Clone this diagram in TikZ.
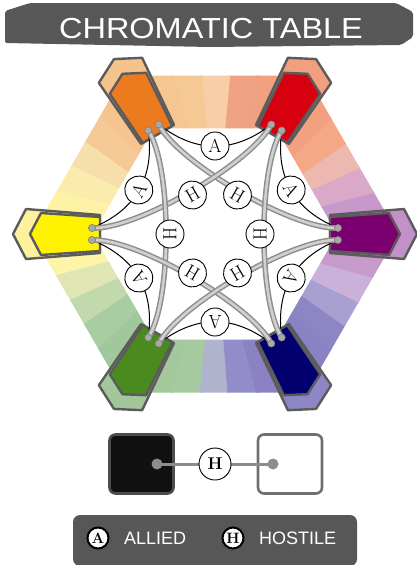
\documentclass[tikz,border=0pt]{standalone}
\usepackage{fontspec}
\newfontfamily\labelsans{Liberation Sans}
\usetikzlibrary{calc}
\definecolor{bannergray}{HTML}{575757}
\definecolor{tabline}{HTML}{5B5B5B}
\definecolor{tubedark}{HTML}{8E8E8E}
\definecolor{tubelight}{HTML}{D0D0D0}
\definecolor{dotgray}{HTML}{A9A9A9}
\definecolor{dotrim}{HTML}{7A7A7A}
\definecolor{linkgray}{HTML}{8C8C8C}
\definecolor{blacksq}{HTML}{111111}
\definecolor{blackrim}{HTML}{4D4D4D}
\definecolor{whiterim}{HTML}{707070}
\tikzset{
  tabshape/.style={draw=tabline, line width=2.4pt, line join=round},
  allyline/.style={draw=black, line width=1pt},
  tube/.style={draw=tubedark, line width=1.5pt, double=tubelight, double distance=2.6pt},
  relcirc/.style={circle, draw=black, line width=0.9pt, fill=white, minimum size=28pt, inner sep=0pt, font=\fontsize{19}{19}\selectfont},
  legcirc/.style={circle, draw=black, line width=2pt, fill=white, minimum size=21pt, inner sep=0pt, font=\fontsize{15}{15}\selectfont\bfseries},
  legtext/.style={anchor=west, inner sep=0pt, text=white, font=\labelsans\fontsize{18}{18}\selectfont},
  swatch/.style={rounded corners=6pt, line width=2.6pt, minimum width=64pt, minimum height=59pt, inner sep=0pt},
  vdot/.style={fill=dotgray, draw=dotrim, line width=0.5pt},
}
\begin{document}
\begin{tikzpicture}[x=1pt,y=-1pt]
\useasboundingbox (0,0) rectangle (417,565);
\coordinate (C) at (215,234);

% title banner
\fill[bannergray, rounded corners=2pt] (5,11) -- (30,3) -- (396,3) -- (413,12) -- (413,37) -- (401,45) -- (210,47) -- (5,43) -- cycle;
\node[text=white, font=\labelsans\fontsize{29}{29}\selectfont, inner sep=0pt] (title) at (211,29) {\scalebox{1.12}[1]{CHROMATIC TABLE}};

% colour ring
\begin{scope}
  \clip (398,234) -- (306.5,75.5) -- (123.5,75.5) -- (32,234) -- (123.5,392.5) -- (306.5,392.5) -- cycle;
  \foreach \a/\c in {0/C490C8, 10/C698CB, 20/D9A9C7, 30/EDB8B0, 40/F4A886, 50/F2A080,
                     60/F1A07F, 70/F1A080, 80/F0A384, 90/F8CEA8, 100/F6C994, 110/F5C690,
                     120/F5C38C, 130/F5C48F, 140/F5C995, 150/F6DFAA, 160/FBEBAD, 170/FEF2A7,
                     180/FDF19E, 190/FEF4A8, 200/DFE6B3, 210/C2D8AD, 220/A9CDA2, 230/A0C89C,
                     240/A1C79B, 250/A2C89C, 260/A6CAA0, 270/B0B3CE, 280/928CC8, 290/8A82C2,
                     300/8E87C7, 310/8A82C2, 320/8C86C5, 330/A7A0D0, 340/CBB0D9, 350/C69ACB}{
    \definecolor{seg}{HTML}{\c}
    \fill[seg] (C) -- ($(C)+(-\a+5.5:300)$) -- ($(C)+(-\a-5.5:300)$) -- cycle;
  }
\end{scope}
\fill[white] (337,234) -- (276,128.3) -- (154,128.3) -- (93,234) -- (154,339.7) -- (276,339.7) -- cycle;

% colour tabs
\foreach \k/\mc/\pc in {0/7A0070/C490C8, 1/D7000F/F1A07F, 2/EC7B1F/F5C38C,
                        3/FFF200/FDF19E, 4/4B8A1F/A1C79B, 5/02006E/8E87C7}{
  \definecolor{tabm}{HTML}{\mc}
  \definecolor{tabp}{HTML}{\pc}
  \begin{scope}[shift={(C)}, rotate=60*\k]
    \filldraw[tabshape, fill=tabp] (115,-19) -- (189,-25) -- (202,0) -- (189,25) -- (115,19) -- cycle;
    \filldraw[tabshape, fill=tabm] (115,-17) -- (174,-21) -- (185,0) -- (174,21) -- (115,17) -- cycle;
    \coordinate (dp\k) at (123,-6);
    \coordinate (dm\k) at (123,6);
    \coordinate (hc\k) at (79,0);
  \end{scope}
}

% allied connectors
\foreach \k in {0,...,5}{
  \pgfmathtruncatemacro{\j}{mod(\k+1,6)}
  \coordinate (aq\k) at ($(C)+(-60*\k-30:66)$);
  \draw[allyline] (dp\k) .. controls ($(dp\k)!2/3!(aq\k)$) and ($(dm\j)!2/3!(aq\k)$) .. (dm\j);
}
% hostile connectors
\foreach \k in {0,...,5}{
  \pgfmathtruncatemacro{\m}{mod(\k+2,6)}
  \draw[tube] (dp\k) .. controls ($(hc\k)+(-60*\k-90:4)$) and ($(hc\m)+(-60*\m+90:4)$) .. (dm\m);
}
% labels
\foreach \k in {0,...,5}{
  \node[relcirc, rotate=60*\k-60] (ac\k) at ($(C)+(-60*\k-30:88)$) {A};
  \node[relcirc, rotate=60*\k-90] (hl\k) at ($(C)+(-60*\k:45)$) {H};
}
% anchor dots
\foreach \k in {0,...,5}{
  \filldraw[vdot] (dp\k) circle[radius=3.6];
  \filldraw[vdot] (dm\k) circle[radius=3.6];
}

% black / white example
\node[swatch, fill=blacksq, draw=blackrim] (blk) at (141.5,464) {};
\node[swatch, fill=white, draw=whiterim] (wht) at (290,464) {};
\coordinate (bdot) at (157,464);
\coordinate (wdot) at (273,464);
\draw[linkgray, line width=3pt] (bdot) -- (wdot);
\fill[linkgray] (bdot) circle[radius=5.5];
\fill[linkgray] (wdot) circle[radius=5.5];
\node[relcirc, minimum size=32pt, font=\fontsize{17}{17}\selectfont\bfseries] (hbw) at (215,464) {H};

% legend
\fill[bannergray, rounded corners=7pt] (73,515) rectangle (357,566);
\node[legcirc] (la) at (98,538) {A};
\node[legtext] (lat) at (124,538) {ALLIED};
\node[legcirc] (lh) at (233,538) {H};
\node[legtext] (lht) at (259,538) {HOSTILE};
\end{tikzpicture}
\end{document}
